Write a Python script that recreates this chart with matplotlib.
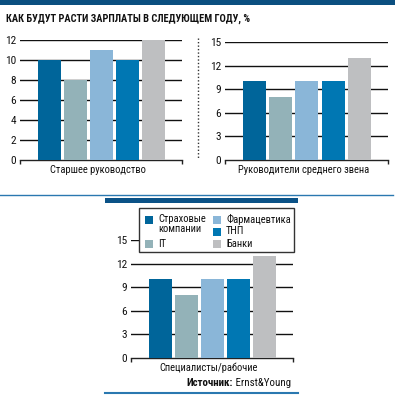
import matplotlib
matplotlib.use("Agg")
import matplotlib.pyplot as plt
from matplotlib import font_manager
from matplotlib.ft2font import FT2Font
from matplotlib.lines import Line2D
from matplotlib.patches import Rectangle

# data
groups = ["Страховые\nкомпании", "IT", "Фармацевтика", "ТНП", "Банки"]
colors = ["#00659a", "#93b2b8", "#8ab6d8", "#0077b3", "#bebfc1"]
senior = [10, 8, 11, 10, 12]
middle = [10, 8, 10, 10, 13]
workers = [10, 8, 10, 10, 13]
panel_titles = ["Старшее руководство", "Руководители среднего звена",
                "Специалисты/рабочие"]
title = "КАК БУДУТ РАСТИ ЗАРПЛАТЫ В СЛЕДУЮЩЕМ ГОДУ, %"
source_bold = "Источник:"
source_name = " Ernst&Young"


def has_cyr(path):
    try:
        return 0x0416 in FT2Font(path).get_charmap()
    except Exception:
        return False


# pick a narrow font that has cyrillic, the original uses a condensed grotesk
pref = ["Roboto Condensed", "PT Sans Narrow", "Fira Sans Condensed",
        "IBM Plex Sans Condensed", "Open Sans Condensed", "Archivo Narrow",
        "Noto Sans Condensed", "Liberation Sans Narrow", "Asap Condensed",
        "Barlow Condensed"]
narrow = set()
for f in font_manager.fontManager.ttflist:
    if f.name in pref and f.style == "normal" and has_cyr(f.fname):
        narrow.add(f.name)
chosen = next((p for p in pref if p in narrow), None)
if chosen:
    plt.rcParams["font.family"] = [chosen, "DejaVu Sans"]
else:
    plt.rcParams["font.family"] = ["DejaVu Sans"]
    plt.rcParams["font.stretch"] = "condensed"

W, H = 395, 397
INK = "#111111"
fig = plt.figure(figsize=(W / 100, H / 100), dpi=100)
fig.patch.set_facecolor("white")

def fx(x):
    return x / W

def fy(y):
    return 1 - y / H

def px(x0, y0, x1, y1):
    # pixel box (top-left origin) -> figure fraction rect
    return [fx(x0), fy(y1), (x1 - x0) / W, (y1 - y0) / H]

def bars(rect, vals, ymax, step, label):
    ax = fig.add_axes(rect)
    xs = range(len(vals))
    ax.bar(xs, vals, width=0.88, color=colors, zorder=3)
    ax.set_xlim(-1.13, len(vals) - 1 + 1.1)
    ax.set_ylim(0, ymax)
    ax.set_yticks(range(0, ymax + 1, step))
    for t in range(step, ymax + 1, step):
        ax.axhline(t, color=INK, lw=1.0, zorder=1)
    for s in ["left", "right", "top"]:
        ax.spines[s].set_visible(False)
    ax.spines["bottom"].set_color("#222222")
    ax.spines["bottom"].set_linewidth(1.0)
    ax.set_xticks(ax.get_xlim())
    ax.set_xticklabels([])
    ax.tick_params(axis="x", direction="out", length=3, width=1, color="#222222")
    ax.tick_params(axis="y", length=0, pad=3, labelsize=8.2, labelcolor=INK)
    ax.annotate(label, (0.48, 0), xycoords="axes fraction", xytext=(0, -10),
                textcoords="offset pixels", ha="center", va="center",
                fontsize=7.6, color=INK)
    ax.set_facecolor("none")
    return ax

bars(px(20, 40, 182, 160), senior, 12, 2, panel_titles[0])
bars(px(225, 42, 388, 160), middle, 15, 3, panel_titles[1])
bars(px(131, 240, 293, 358), workers, 15, 3, panel_titles[2])

# decorations
fig.add_artist(Rectangle((0, fy(5)), 1, 5 / H, transform=fig.transFigure,
                         color="#0b4f80", lw=0))
fig.text(fx(6), fy(19), title, fontsize=7.5, fontweight="bold",
         va="center", ha="left", color=INK)
fig.add_artist(Line2D([fx(198), fx(198)], [fy(38), fy(158)],
                      transform=fig.transFigure, color="#333333", lw=1,
                      ls=(0, (1, 1.5))))
fig.add_artist(Line2D([0, fx(393)], [fy(195), fy(195)],
                      transform=fig.transFigure, color="#2a78b0", lw=1))
fig.add_artist(Rectangle((fx(105), fy(203)), 193 / W, 5 / H,
                         transform=fig.transFigure, color="#0b5287", lw=0))
fig.add_artist(Line2D([fx(105), fx(298)], [fy(393), fy(393)],
                      transform=fig.transFigure, color="#2a78b0", lw=1.5))

# legend drawn by hand: the first entry takes two lines, IT sits level with Банки
fig.add_artist(Rectangle((fx(139), fy(252)), 155 / W, 44 / H,
                         transform=fig.transFigure, facecolor="white",
                         edgecolor="#333333", lw=1, zorder=5))
slots = [(145, 219.5), (145, 244.5), (213, 219.5), (213, 231.5), (213, 244.5)]
for (sx, sy), name, c in zip(slots, groups, colors):
    fig.add_artist(Rectangle((fx(sx), fy(sy + 4)), 8 / W, 8 / H,
                             transform=fig.transFigure, color=c, lw=0, zorder=6))
    fig.text(fx(sx + 13), fy(sy - 5.5), name, fontsize=7.6, va="top", ha="left",
             color=INK, linespacing=1.0, zorder=6)

t = fig.text(fx(291), fy(383), source_name, fontsize=7.8, ha="right",
             va="center", color=INK)
fig.canvas.draw()
bb = t.get_window_extent()
fig.text(bb.x0 / W, fy(383), source_bold, fontsize=7.8,
         fontweight="bold", ha="right", va="center", color=INK)

fig.savefig("out.png", dpi=100)
